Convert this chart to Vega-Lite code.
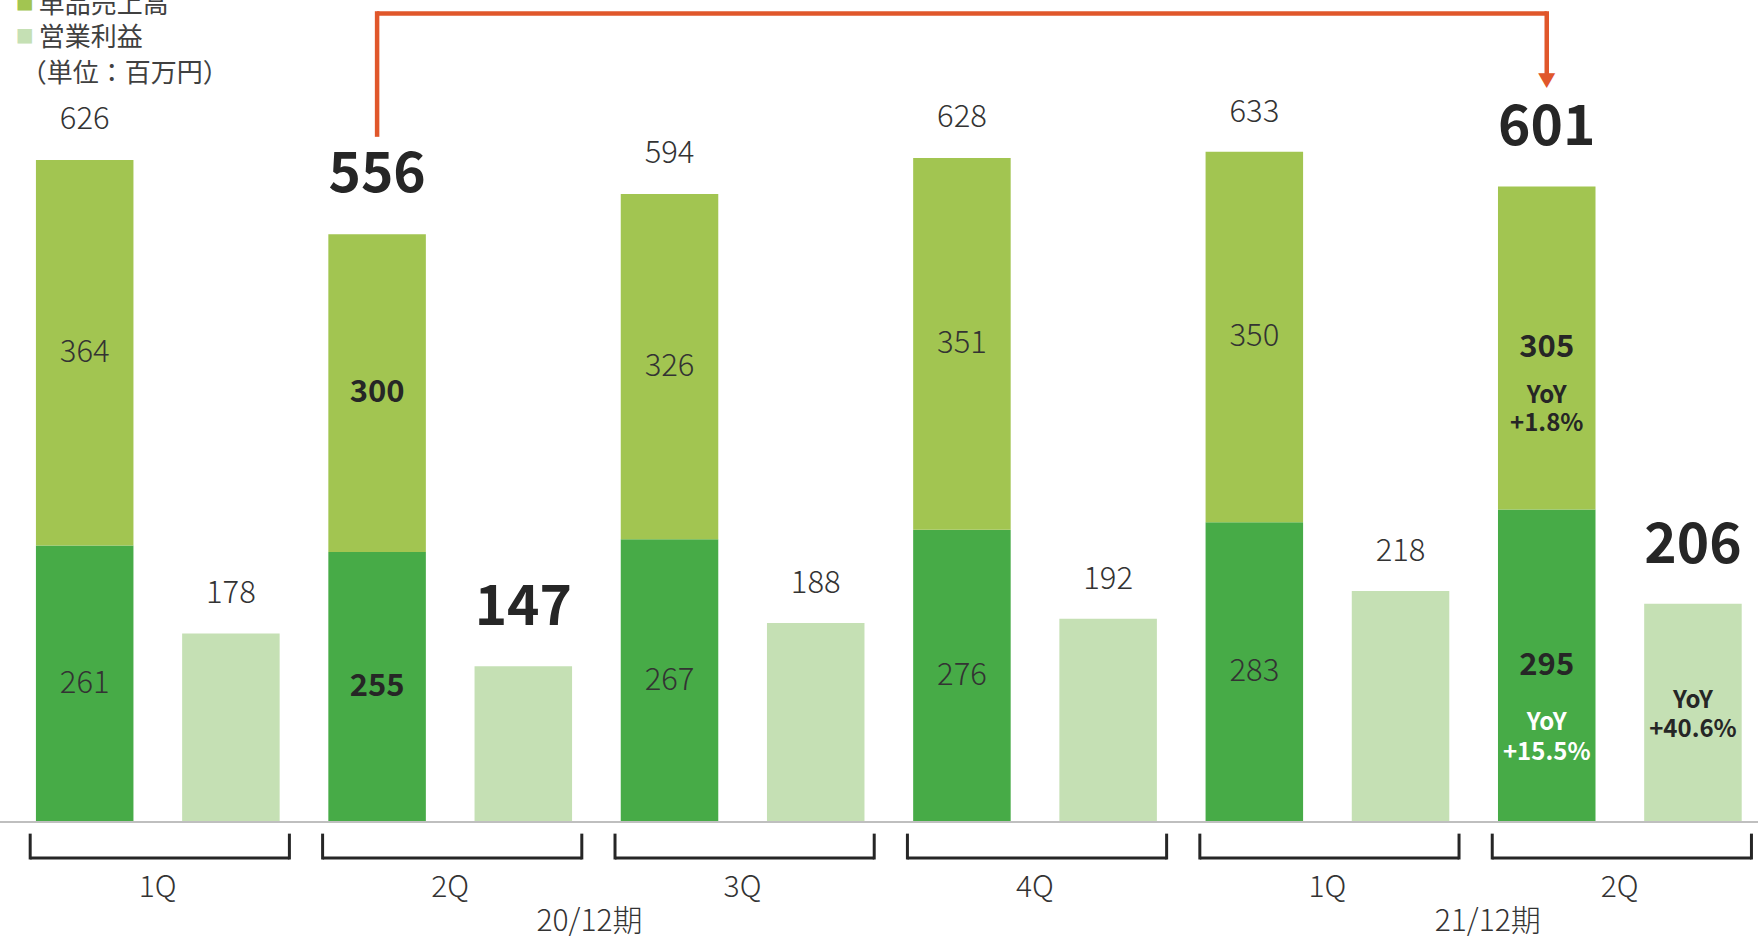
{
  "$schema": "https://vega.github.io/schema/vega-lite/v6.json",
  "width": 1758,
  "height": 939,
  "autosize": {"type": "none"},
  "padding": 0,
  "background": "white",
  "config": {"view": {"stroke": null}, "font": "Noto Sans CJK JP"},
  "datasets": {
    "bars": [
      {"slot": "20-1Q-a", "s": "定期売上高", "v": 261, "ord": 1},
      {"slot": "20-1Q-a", "s": "単品売上高", "v": 364, "ord": 2},
      {"slot": "20-1Q-b", "s": "営業利益", "v": 178, "ord": 1},
      {"slot": "20-2Q-a", "s": "定期売上高", "v": 255, "ord": 1},
      {"slot": "20-2Q-a", "s": "単品売上高", "v": 300, "ord": 2},
      {"slot": "20-2Q-b", "s": "営業利益", "v": 147, "ord": 1},
      {"slot": "20-3Q-a", "s": "定期売上高", "v": 267, "ord": 1},
      {"slot": "20-3Q-a", "s": "単品売上高", "v": 326, "ord": 2},
      {"slot": "20-3Q-b", "s": "営業利益", "v": 188, "ord": 1},
      {"slot": "20-4Q-a", "s": "定期売上高", "v": 276, "ord": 1},
      {"slot": "20-4Q-a", "s": "単品売上高", "v": 351, "ord": 2},
      {"slot": "20-4Q-b", "s": "営業利益", "v": 192, "ord": 1},
      {"slot": "21-1Q-a", "s": "定期売上高", "v": 283, "ord": 1},
      {"slot": "21-1Q-a", "s": "単品売上高", "v": 350, "ord": 2},
      {"slot": "21-1Q-b", "s": "営業利益", "v": 218, "ord": 1},
      {"slot": "21-2Q-a", "s": "定期売上高", "v": 295, "ord": 1, "yoy": "+15.5%"},
      {"slot": "21-2Q-a", "s": "単品売上高", "v": 305, "ord": 2, "yoy": "+1.8%"},
      {"slot": "21-2Q-b", "s": "営業利益", "v": 206, "ord": 1, "yoy": "+40.6%"}
    ],
    "tops": [
      {"slot": "20-1Q-a", "t": 626, "hl": false},
      {"slot": "20-1Q-b", "t": 178, "hl": false},
      {"slot": "20-2Q-a", "t": 556, "hl": true},
      {"slot": "20-2Q-b", "t": 147, "hl": true},
      {"slot": "20-3Q-a", "t": 594, "hl": false},
      {"slot": "20-3Q-b", "t": 188, "hl": false},
      {"slot": "20-4Q-a", "t": 628, "hl": false},
      {"slot": "20-4Q-b", "t": 192, "hl": false},
      {"slot": "21-1Q-a", "t": 633, "hl": false},
      {"slot": "21-1Q-b", "t": 218, "hl": false},
      {"slot": "21-2Q-a", "t": 601, "hl": true},
      {"slot": "21-2Q-b", "t": 206, "hl": true}
    ],
    "quarters": [
      {"slot": "20-1Q-a", "slotB": "20-1Q-b", "label": "1Q"},
      {"slot": "20-2Q-a", "slotB": "20-2Q-b", "label": "2Q"},
      {"slot": "20-3Q-a", "slotB": "20-3Q-b", "label": "3Q"},
      {"slot": "20-4Q-a", "slotB": "20-4Q-b", "label": "4Q"},
      {"slot": "21-1Q-a", "slotB": "21-1Q-b", "label": "1Q"},
      {"slot": "21-2Q-a", "slotB": "21-2Q-b", "label": "2Q"}
    ],
    "periods": [
      {"slot": "20-3Q-a", "label": "20/12期"},
      {"slot": "21-2Q-a", "label": "21/12期"}
    ],
    "arrow": [
      {"from": "20-2Q-a", "to": "20-2Q-a", "y0": 647, "y1": 765.6},
      {"from": "20-2Q-a", "to": "21-2Q-a", "y0": 763.5, "y1": 763.5},
      {"from": "21-2Q-a", "to": "21-2Q-a", "y0": 703, "y1": 765.6}
    ],
    "tip": [{"slot": "21-2Q-a", "v": 699, "glyph": "▼"}],
    "legend": [
      {"slot": "20-1Q-a", "s": "単品売上高", "label": "単品売上高"},
      {"slot": "20-1Q-a", "s": "営業利益", "label": "営業利益"}
    ],
    "unit": [{"slot": "20-1Q-a", "label": "（単位：百万円）"}],
    "base": [{"v": 0}]
  },
  "data": {"name": "bars"},
  "transform": [
    {"stack": "v", "groupby": ["slot"], "sort": [{"field": "ord", "order": "ascending"}], "as": ["v0", "v1"]},
    {"calculate": "(datum.v0 + datum.v1) / 2", "as": "mid"}
  ],
  "layer": [
    {
      "mark": {"type": "bar"},
      "encoding": {
        "x": {"field": "slot", "type": "nominal", "axis": null, "scale": {"paddingInner": 0.333, "paddingOuter": 0.1786, "align": 0.688}},
        "y": {"field": "v0", "type": "quantitative", "axis": null, "scale": {"domain": [-110.5, 776.2], "nice": false, "zero": false}},
        "y2": {"field": "v1"},
        "color": {
          "field": "s", "type": "nominal",
          "scale": {"domain": ["定期売上高", "単品売上高", "営業利益"], "range": ["#47ab47", "#a2c551", "#c5e0b4"]},
          "legend": null
        }
      }
    },
    {
      "data": {"name": "base"},
      "mark": {"type": "rule", "color": "#bfbfbf", "strokeWidth": 2},
      "encoding": {"y": {"field": "v", "type": "quantitative", "axis": null}}
    },
    {
      "transform": [{"filter": "datum.s !== '営業利益' && datum.slot !== '20-2Q-a' && datum.slot !== '21-2Q-a'"}],
      "mark": {"type": "text", "fontSize": 31, "fontWeight": 300, "color": "#333333", "baseline": "middle"},
      "encoding": {
        "x": {"field": "slot", "type": "nominal", "axis": null},
        "y": {"field": "mid", "type": "quantitative", "axis": null},
        "text": {"field": "v", "type": "quantitative"}
      }
    },
    {
      "transform": [{"filter": "datum.slot === '20-2Q-a' || datum.slot === '21-2Q-a'"}],
      "mark": {"type": "text", "fontSize": 31, "fontWeight": "bold", "color": "#262626", "baseline": "middle"},
      "encoding": {
        "x": {"field": "slot", "type": "nominal", "axis": null},
        "y": {"field": "mid", "type": "quantitative", "axis": null},
        "text": {"field": "v", "type": "quantitative"}
      }
    },
    {
      "data": {"name": "tops"},
      "transform": [{"filter": "!datum.hl"}],
      "mark": {"type": "text", "fontSize": 31, "fontWeight": 300, "color": "#333333", "baseline": "middle", "dy": -39},
      "encoding": {
        "x": {"field": "slot", "type": "nominal", "axis": null},
        "y": {"field": "t", "type": "quantitative", "axis": null},
        "text": {"field": "t", "type": "quantitative"}
      }
    },
    {
      "data": {"name": "tops"},
      "transform": [{"filter": "datum.hl"}],
      "mark": {"type": "text", "fontSize": 55, "fontWeight": "bold", "color": "#262626", "baseline": "middle", "dy": -58},
      "encoding": {
        "x": {"field": "slot", "type": "nominal", "axis": null},
        "y": {"field": "t", "type": "quantitative", "axis": null},
        "text": {"field": "t", "type": "quantitative"}
      }
    },
    {
      "transform": [{"filter": "datum.yoy && datum.s === '単品売上高'"}],
      "mark": {"type": "text", "fontSize": 24, "fontWeight": "bold", "color": "#262626", "baseline": "middle", "dy": 48},
      "encoding": {
        "x": {"field": "slot", "type": "nominal", "axis": null},
        "y": {"field": "mid", "type": "quantitative", "axis": null},
        "text": {"value": "YoY"}
      }
    },
    {
      "transform": [{"filter": "datum.yoy && datum.s === '単品売上高'"}],
      "mark": {"type": "text", "fontSize": 24, "fontWeight": "bold", "color": "#262626", "baseline": "middle", "dy": 76},
      "encoding": {
        "x": {"field": "slot", "type": "nominal", "axis": null},
        "y": {"field": "mid", "type": "quantitative", "axis": null},
        "text": {"field": "yoy", "type": "nominal"}
      }
    },
    {
      "transform": [{"filter": "datum.yoy && datum.s === '定期売上高'"}],
      "mark": {"type": "text", "fontSize": 24, "fontWeight": "bold", "color": "#ffffff", "baseline": "middle", "dy": 57},
      "encoding": {
        "x": {"field": "slot", "type": "nominal", "axis": null},
        "y": {"field": "mid", "type": "quantitative", "axis": null},
        "text": {"value": "YoY"}
      }
    },
    {
      "transform": [{"filter": "datum.yoy && datum.s === '定期売上高'"}],
      "mark": {"type": "text", "fontSize": 24, "fontWeight": "bold", "color": "#ffffff", "baseline": "middle", "dy": 87},
      "encoding": {
        "x": {"field": "slot", "type": "nominal", "axis": null},
        "y": {"field": "mid", "type": "quantitative", "axis": null},
        "text": {"field": "yoy", "type": "nominal"}
      }
    },
    {
      "transform": [{"filter": "datum.yoy && datum.s === '営業利益'"}],
      "mark": {"type": "text", "fontSize": 24, "fontWeight": "bold", "color": "#262626", "baseline": "middle", "dy": -12},
      "encoding": {
        "x": {"field": "slot", "type": "nominal", "axis": null},
        "y": {"field": "mid", "type": "quantitative", "axis": null},
        "text": {"value": "YoY"}
      }
    },
    {
      "transform": [{"filter": "datum.yoy && datum.s === '営業利益'"}],
      "mark": {"type": "text", "fontSize": 24, "fontWeight": "bold", "color": "#262626", "baseline": "middle", "dy": 17},
      "encoding": {
        "x": {"field": "slot", "type": "nominal", "axis": null},
        "y": {"field": "mid", "type": "quantitative", "axis": null},
        "text": {"field": "yoy", "type": "nominal"}
      }
    },
    {
      "data": {"name": "quarters"},
      "transform": [{"calculate": "-34", "as": "by"}],
      "mark": {"type": "rule", "strokeWidth": 3, "color": "#262626", "xOffset": -54.5, "x2Offset": 58.5},
      "encoding": {
        "x": {"field": "slot", "type": "nominal", "axis": null},
        "x2": {"field": "slotB"},
        "y": {"field": "by", "type": "quantitative", "axis": null}
      }
    },
    {
      "data": {"name": "quarters"},
      "transform": [{"calculate": "-11", "as": "bt"}, {"calculate": "-35.4", "as": "bb"}],
      "mark": {"type": "rule", "strokeWidth": 3, "color": "#262626", "xOffset": -54.5},
      "encoding": {
        "x": {"field": "slot", "type": "nominal", "axis": null},
        "y": {"field": "bt", "type": "quantitative", "axis": null},
        "y2": {"field": "bb"}
      }
    },
    {
      "data": {"name": "quarters"},
      "transform": [{"calculate": "-11", "as": "bt"}, {"calculate": "-35.4", "as": "bb"}],
      "mark": {"type": "rule", "strokeWidth": 3, "color": "#262626", "xOffset": 58.5},
      "encoding": {
        "x": {"field": "slotB", "type": "nominal", "axis": null},
        "y": {"field": "bt", "type": "quantitative", "axis": null},
        "y2": {"field": "bb"}
      }
    },
    {
      "data": {"name": "quarters"},
      "transform": [{"calculate": "-62", "as": "ly"}],
      "mark": {"type": "text", "fontSize": 30, "fontWeight": 300, "color": "#333333", "baseline": "middle", "dx": 73},
      "encoding": {
        "x": {"field": "slot", "type": "nominal", "axis": null},
        "y": {"field": "ly", "type": "quantitative", "axis": null},
        "text": {"field": "label", "type": "nominal"}
      }
    },
    {
      "data": {"name": "periods"},
      "transform": [{"filter": "datum.slot === '20-3Q-a'"}, {"calculate": "-94.5", "as": "py"}],
      "mark": {"type": "text", "fontSize": 30, "fontWeight": 300, "color": "#333333", "baseline": "middle", "dx": -80},
      "encoding": {
        "x": {"field": "slot", "type": "nominal", "axis": null},
        "y": {"field": "py", "type": "quantitative", "axis": null},
        "text": {"field": "label", "type": "nominal"}
      }
    },
    {
      "data": {"name": "periods"},
      "transform": [{"filter": "datum.slot === '21-2Q-a'"}, {"calculate": "-94.5", "as": "py"}],
      "mark": {"type": "text", "fontSize": 30, "fontWeight": 300, "color": "#333333", "baseline": "middle", "dx": -59},
      "encoding": {
        "x": {"field": "slot", "type": "nominal", "axis": null},
        "y": {"field": "py", "type": "quantitative", "axis": null},
        "text": {"field": "label", "type": "nominal"}
      }
    },
    {
      "data": {"name": "arrow"},
      "mark": {"type": "rule", "strokeWidth": 4.5, "color": "#e0572b"},
      "encoding": {
        "x": {"field": "from", "type": "nominal", "axis": null},
        "x2": {"field": "to"},
        "y": {"field": "y0", "type": "quantitative", "axis": null},
        "y2": {"field": "y1"}
      }
    },
    {
      "data": {"name": "tip"},
      "mark": {"type": "text", "fontSize": 18, "color": "#e0572b", "baseline": "middle"},
      "encoding": {
        "x": {"field": "slot", "type": "nominal", "axis": null},
        "y": {"field": "v", "type": "quantitative", "axis": null},
        "text": {"field": "glyph", "type": "nominal"}
      }
    },
    {
      "data": {"name": "legend"},
      "transform": [{"calculate": "datum.s === '単品売上高' ? 771.5 : 740", "as": "ly"}],
      "mark": {"type": "text", "fontSize": 18, "baseline": "middle", "dx": -60},
      "encoding": {
        "x": {"field": "slot", "type": "nominal", "axis": null},
        "y": {"field": "ly", "type": "quantitative", "axis": null},
        "text": {"value": "■"},
        "color": {"field": "s", "type": "nominal", "legend": null}
      }
    },
    {
      "data": {"name": "legend"},
      "transform": [{"calculate": "datum.s === '単品売上高' ? 771.5 : 740", "as": "ly"}],
      "mark": {"type": "text", "fontSize": 26, "color": "#404040", "baseline": "middle", "align": "left", "dx": -46},
      "encoding": {
        "x": {"field": "slot", "type": "nominal", "axis": null},
        "y": {"field": "ly", "type": "quantitative", "axis": null},
        "text": {"field": "label", "type": "nominal"}
      }
    },
    {
      "data": {"name": "unit"},
      "transform": [{"calculate": "706", "as": "ly"}],
      "mark": {"type": "text", "fontSize": 26, "color": "#404040", "baseline": "middle", "align": "left", "dx": -64},
      "encoding": {
        "x": {"field": "slot", "type": "nominal", "axis": null},
        "y": {"field": "ly", "type": "quantitative", "axis": null},
        "text": {"field": "label", "type": "nominal"}
      }
    }
  ]
}
